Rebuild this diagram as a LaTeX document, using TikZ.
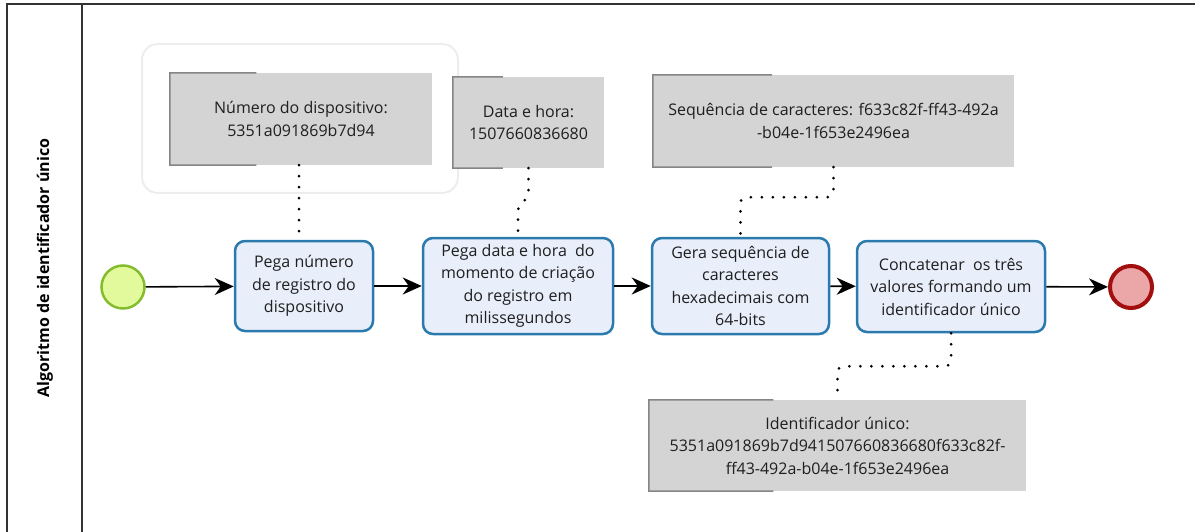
\documentclass[tikz,border=0pt]{standalone}
\usepackage{fontspec}
\setmainfont{Open Sans}
\usetikzlibrary{arrows.meta,calc}
\definecolor{taskfill}{HTML}{E9EEFB}
\definecolor{taskline}{HTML}{2A7AAE}
\definecolor{annfill}{HTML}{D4D4D4}
\definecolor{annline}{HTML}{858585}
\definecolor{startfill}{HTML}{E3FA9C}
\definecolor{startline}{HTML}{84BC2E}
\definecolor{endfill}{HTML}{EBA6A8}
\definecolor{endline}{HTML}{A30E0E}
\definecolor{groupline}{HTML}{EDEDED}
\definecolor{poolline}{HTML}{333333}
\tikzset{
  txt/.style={font=\fontsize{16}{22.5}\selectfont, align=center, text=black!88},
  task/.style={txt, draw=taskline, fill=taskfill, line width=2.5pt,
    rounded corners=10pt, inner sep=0pt},
  ann/.style={txt, fill=annfill, inner sep=0pt},
  bracket/.style={draw=annline, line width=1.5pt},
  flow/.style={line width=1.6pt, -{Stealth[length=19pt,width=17pt,inset=6pt]}},
  assoc/.style={line width=3pt, line cap=round, dash pattern=on 0pt off 11pt,
    rounded corners=6pt},
}
\begin{document}
\begin{tikzpicture}[x=1pt,y=-1pt]
\useasboundingbox (0,0) rectangle (1195,532);

% pool and lane
\draw[poolline, line width=2pt] (1196,4) -- (7,4) -- (7,533);
\draw[poolline, line width=2pt] (82,4) -- (82,533);
\node[rotate=90, font=\fontsize{16}{18}\bfseries\selectfont] (lane) at (45,268)
  {Algoritmo de identificador único};

% group around the first annotation
\draw[groupline, line width=2pt, rounded corners=16pt] (142,44) rectangle (458,193);

% events
\node[circle, draw=startline, fill=startfill, line width=2.5pt, minimum size=43pt, inner sep=0pt]
  (s) at (123,287) {};
\node[circle, draw=endline, fill=endfill, line width=4pt, minimum size=42pt, inner sep=0pt]
  (e) at (1131,287) {};

% tasks
\node[task, minimum width=138pt, minimum height=90pt] (t1) at (304,286)
  {Pega número\\de registro do\\dispositivo};
\node[task, minimum width=190pt, minimum height=96pt] (t2) at (518,286)
  {Pega data e hora\ \ do\\momento de criação\\do registro em\\milissegundos};
\node[task, minimum width=177pt, minimum height=96pt] (t3) at (740.5,286)
  {Gera sequência de\\caracteres\\hexadecimais com\\64-bits};
\node[task, minimum width=188pt, minimum height=91pt] (t4) at (951,286.5)
  {Concatenar\ \ os três\\valores formando um\\identificador único};

% annotations
\node[ann, minimum width=262pt, minimum height=92pt] (a1) at (301,119)
  {Número do dispositivo:\\5351a091869b7d94};
\node[ann, minimum width=151pt, minimum height=91pt] (a2) at (528.5,122.5)
  {Data e hora:\\1507660836680};
\node[ann, minimum width=361pt, minimum height=92pt] (a3) at (833.5,121)
  {Sequência de caracteres: f633c82f-ff43-492a\\-b04e-1f653e2496ea};
\node[ann, minimum width=377pt, minimum height=91pt] (a4) at (837.5,445.5)
  {Identificador único:\\5351a091869b7d941507660836680f633c82f-\\ff43-492a-b04e-1f653e2496ea};

\foreach \a in {a1,a2,a3,a4}{
  \draw[bracket] ($(\a.north west)!0.33!(\a.north east)$) -- (\a.north west)
    -- (\a.south west) -- ($(\a.south west)!0.33!(\a.south east)$);
}

% sequence flows
\draw[flow] (s) -- (t1);
\draw[flow] (t1) -- (t2);
\draw[flow] (t2) -- (t3);
\draw[flow] (t3) -- (t4);
\draw[flow] (t4) -- (e);

% associations
\draw[assoc] ([xshift=-2pt]a1.south) -- ([xshift=-2pt]a1.south |- t1.north);
\draw[assoc] (a2.south) -- ++(0,30) -- ($(t2.north)+(0,-32)$) -- (t2.north);
\draw[assoc] (a3.south) -- ++(0,30) -| (t3.north);
\draw[assoc] (t4.south) -- ++(0,33) -| (a4.north);
\end{tikzpicture}
\end{document}
